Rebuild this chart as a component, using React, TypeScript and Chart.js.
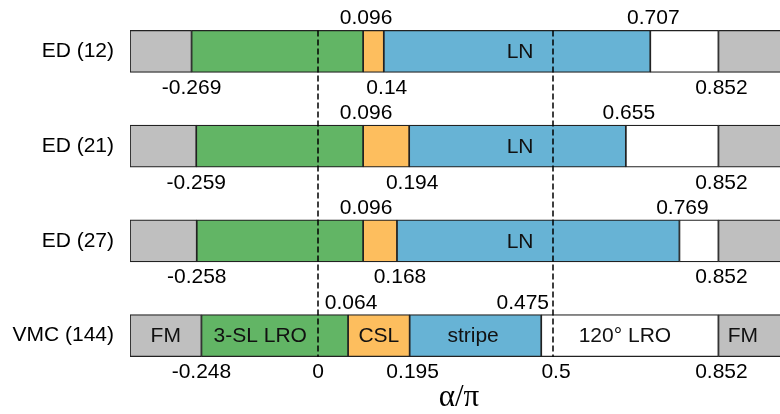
import React, { useEffect, useRef } from 'react';
import { Chart, registerables } from 'chart.js';

Chart.register(...registerables);

// ---- data ----
const categories = ['ED (12)', 'ED (21)', 'ED (27)', 'VMC (144)'];
const fmEnd = [-0.269, -0.259, -0.258, -0.248];
const slEnd = [0.096, 0.096, 0.096, 0.064];
const cslEnd = [0.14, 0.194, 0.168, 0.195];
const lnEnd = [0.707, 0.655, 0.769, 0.475];
const lroEnd = [0.852, 0.852, 0.852, 0.852];
const axisMin = -0.4;
const axisMax = 1.0;
const markerLines = [0, 0.5];
const aboveLabels = [
  [0.096, 0.707],
  [0.096, 0.655],
  [0.096, 0.769],
  [0.064, 0.475],
];
const belowLabels = [
  [-0.269, 0.14, 0.852],
  [-0.259, 0.194, 0.852],
  [-0.258, 0.168, 0.852],
  [-0.248, 0, 0.195, 0.5, 0.852],
];
const phaseNames = [['LN'], ['LN'], ['LN'], ['FM', '3-SL LRO', 'CSL', 'stripe', '120° LRO', 'FM']];
const phaseNameAt = [[0.43], [0.43], [0.43], [-0.324, -0.123, 0.1295, 0.33, 0.653, 0.904]];
const axisTitle = 'α/π';

const GRAY = '#bfbfbf';
const GREEN = '#62b565';
const ORANGE = '#fdbe5e';
const BLUE = '#67b3d5';
const WHITE = '#ffffff';
const SANS = '"Liberation Sans", Arial, Helvetica, sans-serif';
const SERIF = '"Liberation Serif", "Times New Roman", serif';

const rows = categories.map((_, i) => i);

const overlayPlugin = {
  id: 'overlay',
  afterDatasetsDraw(chart: any) {
    const { ctx, chartArea } = chart;
    const xs = chart.scales.x;
    const ys = chart.scales.y;
    const half = 21;
    ctx.save();
    // dashed marker lines
    const yTop = ys.getPixelForValue(0) - half;
    const yBot = ys.getPixelForValue(categories.length - 1) + half;
    ctx.strokeStyle = '#000';
    ctx.lineWidth = 1.5;
    ctx.setLineDash([6, 3]);
    markerLines.forEach((v) => {
      const px = xs.getPixelForValue(v);
      ctx.beginPath();
      ctx.moveTo(px, yTop);
      ctx.lineTo(px, yBot);
      ctx.stroke();
    });
    ctx.setLineDash([]);

    ctx.fillStyle = '#000';
    ctx.font = `21px ${SANS}`;
    rows.forEach((i) => {
      const cy = ys.getPixelForValue(i);
      const top = cy - half;
      const bot = cy + half;
      ctx.textBaseline = 'alphabetic';
      aboveLabels[i].forEach((v, k) => {
        const px = xs.getPixelForValue(v);
        const isLast = i === 3 && k === 1;
        if (isLast) {
          ctx.textAlign = 'right';
          ctx.fillText(String(v), xs.getPixelForValue(0.5) - 4, top - 6);
        } else {
          ctx.textAlign = 'center';
          ctx.fillText(String(v), px + (v > 0 ? 3 : 0), top - 6);
        }
      });
      belowLabels[i].forEach((v) => {
        const px = xs.getPixelForValue(v);
        ctx.textAlign = 'center';
        ctx.fillText(String(v), px + (v > 0 ? 3 : 0), bot + 21.5);
      });
      ctx.textBaseline = 'middle';
      phaseNames[i].forEach((name, k) => {
        ctx.textAlign = 'center';
        ctx.fillStyle = '#111';
        ctx.fillText(name, xs.getPixelForValue(phaseNameAt[i][k]), cy + 1);
        ctx.fillStyle = '#000';
      });
    });

    // axis title
    ctx.font = `31px ${SERIF}`;
    ctx.textAlign = 'center';
    ctx.textBaseline = 'alphabetic';
    ctx.fillText(axisTitle, (chartArea.left + chartArea.right) / 2, 406);
    ctx.restore();
  },
};

export default function App() {
  const ref = useRef<HTMLCanvasElement | null>(null);
  useEffect(() => {
    if (!ref.current) return;
    const seg = (label: string, color: string, from: number[], to: number[]) => ({
      label,
      data: rows.map((i) => [from[i], to[i]]),
      backgroundColor: color,
      borderColor: '#222',
      borderWidth: 1.2,
      borderSkipped: false,
    });
    const minArr = rows.map(() => axisMin);
    const maxArr = rows.map(() => axisMax);
    const chart = new Chart(ref.current, {
      type: 'bar',
      data: {
        labels: categories,
        datasets: [
          seg('FM', GRAY, minArr, fmEnd),
          seg('3-SL LRO', GREEN, fmEnd, slEnd),
          seg('CSL', ORANGE, slEnd, cslEnd),
          seg('LN', BLUE, cslEnd, lnEnd),
          seg('120° LRO', WHITE, lnEnd, lroEnd),
          seg('FM', GRAY, lroEnd, maxArr),
        ] as any,
      },
      options: {
        indexAxis: 'y',
        responsive: false,
        animation: false,
        layout: { padding: { top: 4, bottom: 31, right: 12, left: 0 } },
        datasets: { bar: { grouped: false, barThickness: 42 } } as any,
        scales: {
          x: { type: 'linear', min: axisMin, max: axisMax, display: false },
          y: {
            type: 'category',
            grid: { display: false, drawTicks: false },
            border: { display: false },
            ticks: { color: '#000', font: { family: SANS, size: 21 }, padding: 16 },
            afterFit: (s: any) => {
              s.width = 130;
              s.paddingTop = 0;
              s.paddingBottom = 0;
            },
          },
        },
        plugins: { legend: { display: false }, tooltip: { enabled: false } },
      } as any,
      plugins: [overlayPlugin],
    });
    return () => chart.destroy();
  }, []);
  return (
    <div style={{ position: 'absolute', left: 0, top: 0, width: 780, height: 414, overflow: 'hidden', background: '#fff' }}>
      <canvas ref={ref} width={800} height={414} style={{ width: 800, height: 414, display: 'block' }} />
    </div>
  );
}
